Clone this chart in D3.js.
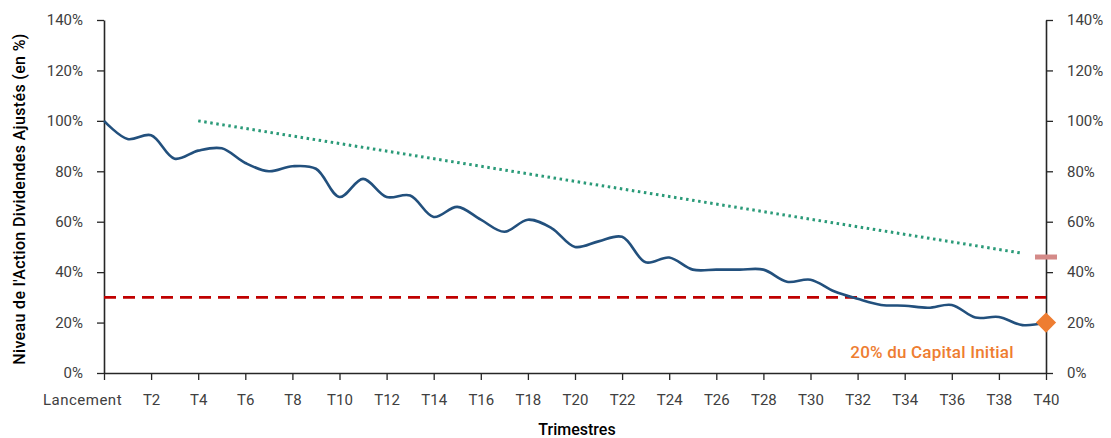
<!DOCTYPE html>
<html>
<head>
<meta charset="utf-8">
<script src="https://cdn.jsdelivr.net/npm/d3@7"></script>
<style>
  body { margin: 0; background: #fff; }
  svg text { font-family: Roboto, "Noto Sans", sans-serif; }
</style>
</head>
<body>
<div id="container"></div>
<script>
// niveau de l'action (en %) a chaque trimestre, lancement = 0
const levels = [
  100, 92.8, 94.3, 85, 88.2, 89.1, 83.3, 80, 82, 81,
  69.8, 77, 69.8, 70.4, 61.9, 65.9, 60.8, 56, 60.8, 57.5,
  50, 52.2, 54, 43.9, 45.8, 41, 41, 41, 41, 36.2,
  37, 32.4, 29.4, 27, 26.7, 25.9, 27, 22, 22.2, 19, 20
];

// ligne pointillee verte (debut / fin)
const trendPoints = [
  { q: 4, v: 100 },
  { q: 39, v: 47.5 }
];

const barrierLevel = 30;
const markerLevel = 46;
const capitalLevel = 20;
const capitalLabel = '20% du Capital Initial';

const xTicks = [0, 2, 4, 6, 8, 10, 12, 14, 16, 18, 20, 22, 24, 26, 28, 30, 32, 34, 36, 38, 40];
const xTickLabels = ['Lancement', 'T2', 'T4', 'T6', 'T8', 'T10', 'T12', 'T14', 'T16', 'T18', 'T20',
                     'T22', 'T24', 'T26', 'T28', 'T30', 'T32', 'T34', 'T36', 'T38', 'T40'];
const yTicks = [0, 20, 40, 60, 80, 100, 120, 140];

const yTitle = "Niveau de l'Action Dividendes Ajustés  (en %)";
const xTitle = 'Trimestres';

//---------------------
// SVG + DIMENSIONS
//---------------------

const width = 1111;
const height = 438;
const margin = { top: 20, right: 65, bottom: 65, left: 104 };
const innerW = 1046 - margin.left;
const innerH = 373 - margin.top;

const svg = d3.select('#container')
              .append('svg')
              .attr('width', width)
              .attr('height', height);

const g = svg.append('g')
             .attr('transform', `translate(${margin.left}, ${margin.top})`);

//---------------------
// SCALES
//---------------------

const x = d3.scaleLinear().domain([0, 40]).range([0, innerW]);
const y = d3.scaleLinear().domain([0, 140]).range([innerH, 0]);

//---------------------
// AXES
//---------------------

function styleAxis (sel) {
  sel.selectAll('.domain').attr('stroke', '#262626').attr('stroke-width', 1.6);
  sel.selectAll('.tick line').attr('stroke', '#262626').attr('stroke-width', 1.3);
  sel.selectAll('.tick text').attr('fill', '#404040').style('font-size', '15px');
}

const axisLeft = d3.axisLeft(y)
                   .tickValues(yTicks)
                   .tickFormat(d => d + '%')
                   .tickSizeInner(7)
                   .tickSizeOuter(0)
                   .tickPadding(14);

g.append('g').call(axisLeft).call(styleAxis);

const axisRight = d3.axisRight(y)
                    .tickValues(yTicks)
                    .tickFormat(d => d + '%')
                    .tickSizeInner(7)
                    .tickSizeOuter(0)
                    .tickPadding(14);

g.append('g')
 .attr('transform', `translate(${innerW}, 0)`)
 .call(axisRight)
 .call(styleAxis);

const axisBottom = d3.axisBottom(x)
                     .tickValues(xTicks)
                     .tickFormat((d, i) => xTickLabels[i])
                     .tickSizeInner(7)
                     .tickSizeOuter(0)
                     .tickPadding(14);

const gx = g.append('g')
            .attr('transform', `translate(0, ${innerH})`)
            .call(axisBottom)
            .call(styleAxis);

// le libelle "Lancement" est decale vers la gauche
gx.selectAll('.tick text')
  .filter(d => d === 0)
  .attr('dx', -22)
  .style('letter-spacing', '0.5px');

// titres des axes
svg.append('text')
   .attr('transform', `translate(25, 199) rotate(-90)`)
   .attr('text-anchor', 'middle')
   .style('font-size', '16px')
   .style('font-weight', 500)
   .style('letter-spacing', '0.35px')
   .attr('fill', '#000')
   .text(yTitle);

svg.append('text')
   .attr('x', 577)
   .attr('y', 435)
   .attr('text-anchor', 'middle')
   .style('font-size', '16px')
   .style('font-weight', 500)
   .attr('fill', '#000')
   .text(xTitle);

//---------------------
// MARKS
//---------------------

// barriere a 30%
g.append('line')
 .attr('x1', x(0))
 .attr('x2', x(40))
 .attr('y1', y(barrierLevel))
 .attr('y2', y(barrierLevel))
 .attr('stroke', '#C00000')
 .attr('stroke-width', 2.6)
 .attr('stroke-dasharray', '12,7');

// ligne pointillee verte
g.append('path')
 .datum(trendPoints)
 .attr('d', d3.line().x(d => x(d.q)).y(d => y(d.v)))
 .attr('fill', 'none')
 .attr('stroke', '#2A9A78')
 .attr('stroke-width', 3)
 .attr('stroke-dasharray', '2.5,3.6');

// trajectoire de l'action
const line = d3.line()
               .x((d, i) => x(i))
               .y(d => y(d))
               .curve(d3.curveCatmullRom.alpha(0.5));

g.append('path')
 .datum(levels)
 .attr('d', line)
 .attr('fill', 'none')
 .attr('stroke', '#22507D')
 .attr('stroke-width', 2.6);

// repere rose a T40
g.append('rect')
 .attr('x', x(40) - 11)
 .attr('y', y(markerLevel) - 2.5)
 .attr('width', 22)
 .attr('height', 5)
 .attr('fill', '#D48A88');

// losange orange a T40
g.append('path')
 .attr('d', d3.symbol().type(d3.symbolDiamond2).size(260)())
 .attr('transform', `translate(${x(40)}, ${y(capitalLevel)})`)
 .attr('fill', '#EE7D31');

g.append('text')
 .attr('x', 932 - margin.left)
 .attr('y', 358 - margin.top)
 .attr('text-anchor', 'middle')
 .attr('fill', '#EE7D31')
 .style('font-size', '17px')
 .style('font-weight', 500)
 .style('letter-spacing', '0.2px')
 .text(capitalLabel);
</script>
</body>
</html>
